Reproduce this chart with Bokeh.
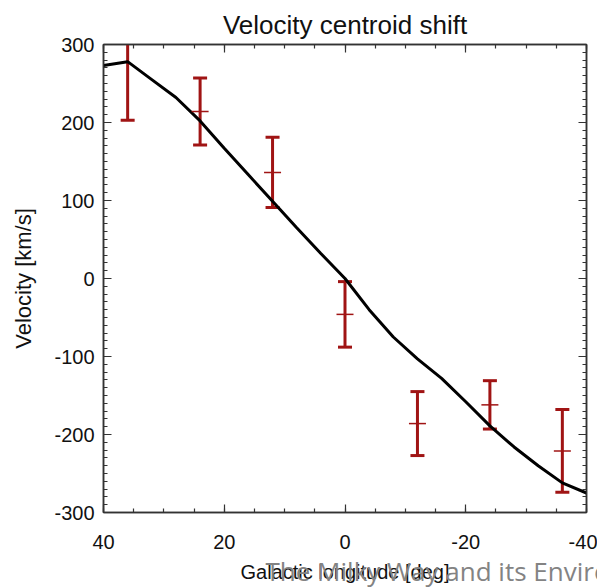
from bokeh.plotting import figure
from bokeh.models import (Range1d, FixedTicker, LinearAxis, Whisker, ColumnDataSource,
                          Title, TeeHead, CustomJSTickFormatter)
from bokeh.embed import file_html
from bokeh.resources import INLINE

title = "Velocity centroid shift"
x_label = "Galactic longitude [deg]"
y_label = "Velocity [km/s]"
caption = "The Milky Way and its Environment"

# observed centroid shifts with error bars
obs_lon = [36, 24, 12, 0, -12, -24, -36]
obs_vel = [310, 214, 136, -46, -186, -162, -221]
obs_err = [107, 43, 45, 42, 41, 31, 53]

# model curve
model_lon = [40, 36, 32, 28, 24, 20, 16, 12, 8, 4, 0, -4, -8, -12, -16, -20, -24, -28, -32, -36, -40]
model_vel = [273, 278, 255, 232, 202, 167, 133, 99, 65, 32, 0, -40, -75, -103, -128, -158, -189, -216, -240, -262, -275]

x_ticks = [40, 20, 0, -20, -40]
x_minor = [40, 35, 30, 25, 20, 15, 10, 5, 0, -5, -10, -15, -20, -25, -30, -35, -40]
y_ticks = [-300, -200, -100, 0, 100, 200, 300]
y_minor = list(range(-300, 301, 10))

FONT = "Liberation Sans"
RED = "#a01414"

p = figure(width=597, height=587, x_range=Range1d(40, -40), y_range=Range1d(-300, 300),
           output_backend="svg", toolbar_location=None,
           min_border_left=103, min_border_right=11, min_border_top=44, min_border_bottom=75,
           x_axis_location=None, y_axis_location=None)
p.grid.visible = False
p.outline_line_color = "#333333"
p.outline_line_width = 1.5
p.background_fill_color = "white"
p.border_fill_color = "white"

p.title.text = title
p.title.align = "center"
p.title.text_font = FONT
p.title.text_font_size = "26px"
p.title.text_font_style = "normal"
p.title.text_color = "#111111"
p.title.standoff = 10

blank = CustomJSTickFormatter(code="return ''")


def style_axis(ax, labels=True):
    ax.axis_line_color = "#333333"
    ax.axis_line_width = 1.5
    ax.major_tick_in = 8
    ax.major_tick_out = 0
    ax.minor_tick_in = 4
    ax.minor_tick_out = 0
    ax.major_tick_line_color = "#333333"
    ax.minor_tick_line_color = "#333333"
    ax.major_tick_line_width = 1.2
    ax.minor_tick_line_width = 1.2
    if labels:
        ax.major_label_text_font = FONT
        ax.major_label_text_font_size = "20px"
        ax.major_label_text_color = "#111111"
        ax.axis_label_text_font = FONT
        ax.axis_label_text_font_style = "normal"
        ax.axis_label_text_color = "#111111"
    else:
        ax.formatter = blank
        ax.major_label_standoff = 0


xt = FixedTicker(ticks=x_ticks, minor_ticks=x_minor)
yt = FixedTicker(ticks=y_ticks, minor_ticks=y_minor)

xb = LinearAxis(ticker=xt, axis_label=x_label)
style_axis(xb)
xb.major_label_standoff = 22
xb.major_label_overrides = {t: str(t) for t in x_ticks}
xb.axis_label_text_font_size = "20px"
xb.axis_label_standoff = 9
p.add_layout(xb, "below")

# caption overlapping the axis title, as in the source slide
cap = Title(text=caption, align="left", offset=162, vertical_align="top",
            text_font="Open Sans", text_font_size="26px", text_font_style="normal",
            text_color="#838383", standoff=-65)
p.add_layout(cap, "below")

xa = LinearAxis(ticker=xt)
style_axis(xa, labels=False)
p.add_layout(xa, "above")

yl = LinearAxis(ticker=yt, axis_label=y_label)
style_axis(yl)
yl.major_label_standoff = 9
yl.major_label_overrides = {t: str(t) for t in y_ticks}
yl.axis_label_text_font_size = "22px"
yl.axis_label_standoff = 15
p.add_layout(yl, "left")

yr = LinearAxis(ticker=yt)
style_axis(yr, labels=False)
p.add_layout(yr, "right")

# model line
p.line(model_lon, model_vel, line_color="black", line_width=3)

# error bars
src = ColumnDataSource(dict(x=obs_lon, y=obs_vel,
                            lo=[v - e for v, e in zip(obs_vel, obs_err)],
                            hi=[v + e for v, e in zip(obs_vel, obs_err)]))
wh = Whisker(source=src, base="x", lower="lo", upper="hi", dimension="height",
             line_color=RED, line_width=3,
             lower_head=TeeHead(size=14, line_color=RED, line_width=3),
             upper_head=TeeHead(size=14, line_color=RED, line_width=3))
p.add_layout(wh)
p.scatter("x", "y", source=src, marker="dash", size=17, line_color=RED, line_width=1.5)

open("out.html", "w").write(file_html(p, INLINE))
